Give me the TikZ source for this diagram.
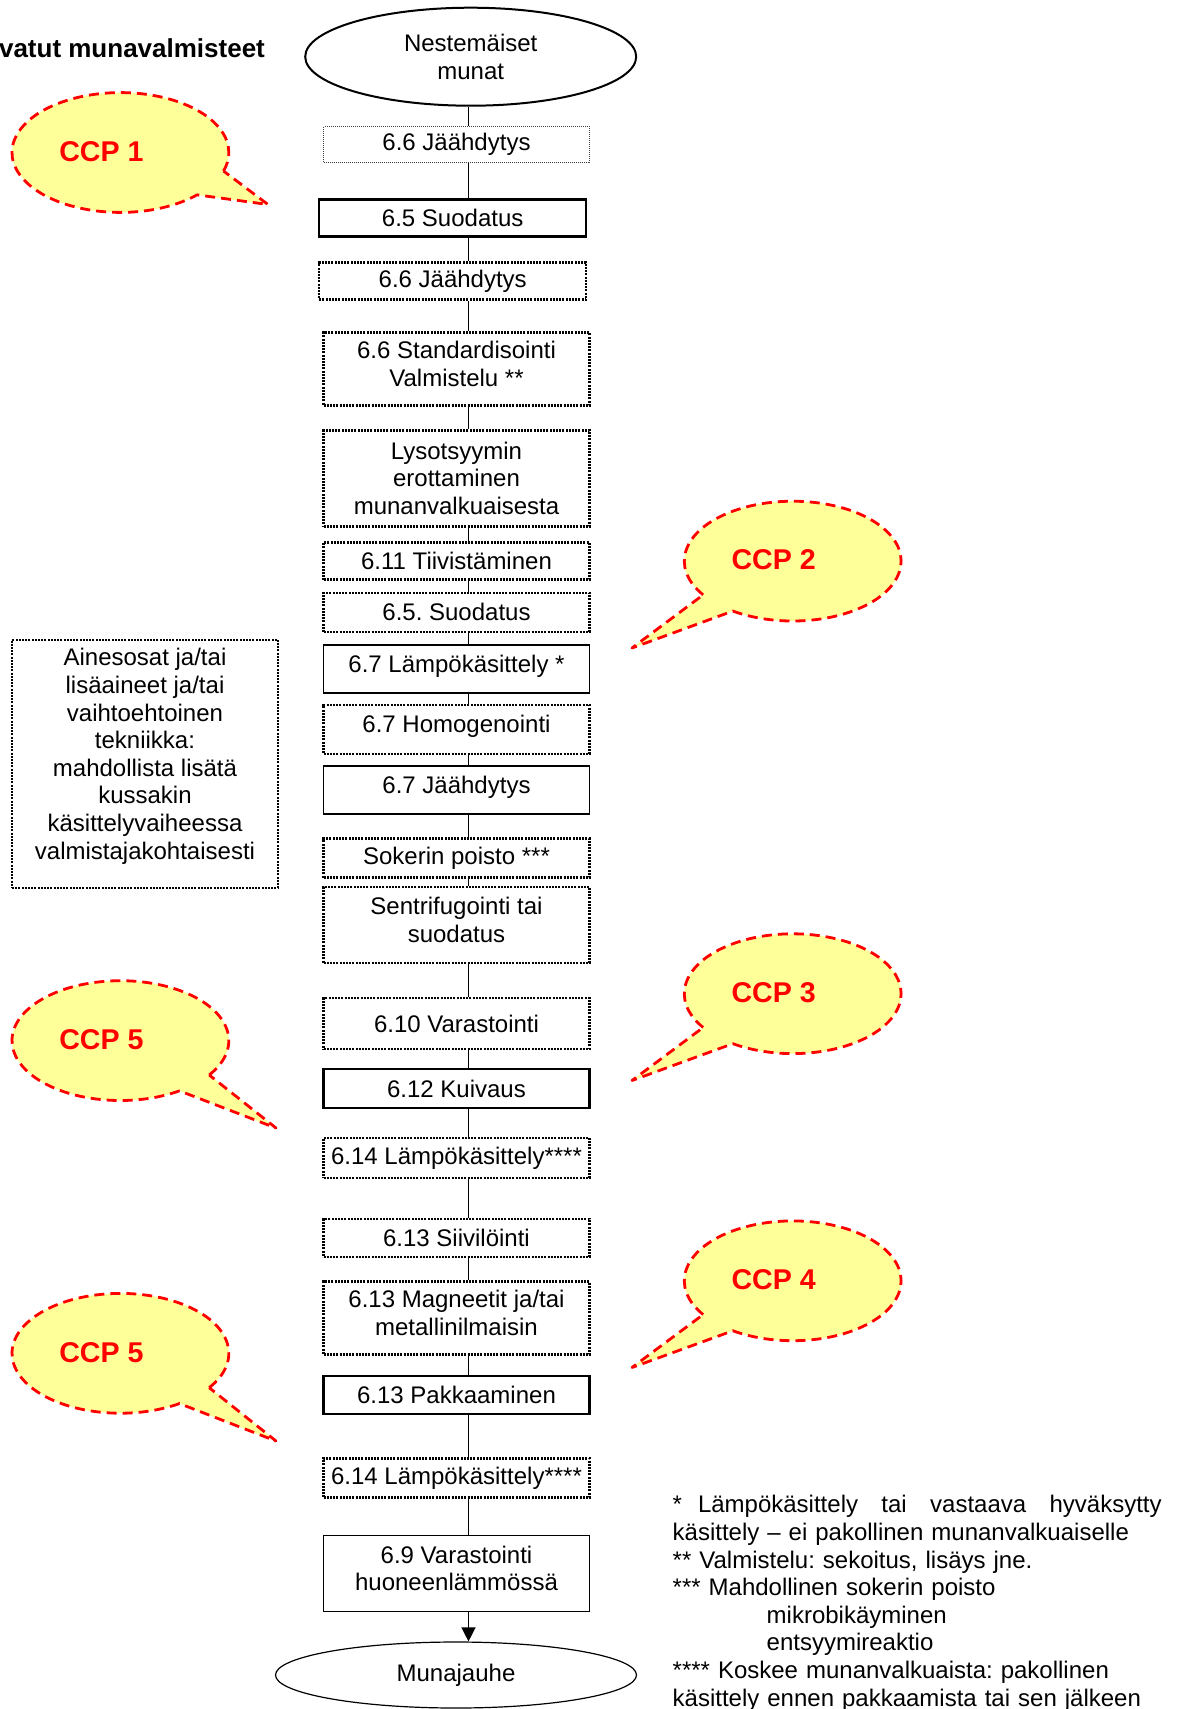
\documentclass[tikz,border=0pt]{standalone}
\usepackage{fontspec}
\setmainfont{Liberation Sans}
\usetikzlibrary{shapes.geometric,arrows.meta}
\definecolor{ccpyellow}{RGB}{255,255,153}

\begin{document}
\frenchspacing
\begin{tikzpicture}[x=0.5pt,y=-0.5pt,
  every node/.style={font=\fontsize{12}{13.8}\selectfont},
  flow/.style={rectangle, minimum width=133pt, align=center, inner sep=1pt},
  dotbox/.style={flow, draw, line width=1.2pt, dash pattern=on 1pt off 0.6pt},
  thickbox/.style={flow, draw, line width=1.15pt},
  thinbox/.style={flow, draw, line width=0.6pt},
  toptext/.style={text depth=5.5pt},
  twoline/.style={text depth=5pt},
  terminal/.style={ellipse, draw, align=center, inner sep=0pt},
  conn/.style={line width=0.7pt},
  ccp/.style={fill=ccpyellow, draw=red, line width=1.4pt, line join=round, dash pattern=on 5pt off 3pt},
  ccptext/.style={text=red, font=\fontsize{14.3}{17}\selectfont\bfseries}]
  \useasboundingbox (0,0) rectangle (1180,1709);
  \coordinate (spine) at (468.5,0);

  \node[anchor=east, font=\fontsize{13}{15}\selectfont\bfseries] (title) at (272,48) {vatut munavalmisteet};

  \node[terminal, line width=1pt, minimum width=165.5pt, minimum height=49pt] (top) at (470.7,56.7) {Nestemäiset\\munat};
  \node[flow, draw=black!75, line width=0.5pt, dash pattern=on 0.5pt off 0.5pt, minimum height=18pt] (jaa1) at (456.5,144.5) {6.6 Jäähdytys};
  \node[thickbox, minimum width=133.5pt, minimum height=18.5pt] (suo1) at (452.7,217.9) {6.5 Suodatus};
  \node[dotbox, minimum width=133.5pt, minimum height=18.5pt] (jaa2) at (452.7,281) {6.6 Jäähdytys};
  \node[dotbox, twoline, minimum height=36.5pt] (std) at (456.5,368.8) {6.6 Standardisointi\\Valmistelu **};
  \node[dotbox, minimum height=48pt] (lys) at (456.5,478.3) {Lysotsyymin\\erottaminen\\munanvalkuaisesta};
  \node[dotbox, minimum height=18.5pt] (tii) at (456.5,561.1) {6.11 Tiivistäminen};
  \node[dotbox, minimum height=19.5pt] (suo2) at (456.5,612.4) {6.5. Suodatus};
  \node[thinbox, toptext, minimum height=24pt] (lam) at (456.5,669) {6.7 Lämpökäsittely *};
  \node[dotbox, toptext, minimum height=24.5pt] (hom) at (456.5,729.5) {6.7 Homogenointi};
  \node[thinbox, toptext, minimum height=24pt] (jaa3) at (456.5,790) {6.7 Jäähdytys};
  \node[dotbox, minimum height=19.5pt] (sok) at (456.5,858) {Sokerin poisto ***};
  \node[dotbox, twoline, minimum height=38pt] (sen) at (456.5,925) {Sentrifugointi tai\\suodatus};
  \node[dotbox, minimum height=25.5pt] (var) at (456.5,1023.6) {6.10 Varastointi};
  \node[thickbox, minimum height=19.5pt] (kui) at (456.5,1088.5) {6.12 Kuivaus};
  \node[dotbox, minimum height=20pt] (lk1) at (456.5,1157.8) {6.14 Lämpökäsittely****};
  \node[dotbox, minimum height=19pt] (sii) at (456.5,1238) {6.13 Siivilöinti};
  \node[dotbox, twoline, minimum height=36.5pt] (mag) at (456.5,1318) {6.13 Magneetit ja/tai\\metallinilmaisin};
  \node[thickbox, minimum height=19pt] (pak) at (456.5,1395) {6.13 Pakkaaminen};
  \node[dotbox, minimum height=19.5pt] (lk2) at (456.5,1477.8) {6.14 Lämpökäsittely****};
  \node[flow, draw, twoline, line width=0.9pt, minimum height=38pt] (var2) at (456.5,1573.4) {6.9 Varastointi\\huoneenlämmössä};
  \node[terminal, line width=0.6pt, minimum width=180.5pt, minimum height=33pt] (end) at (456,1675) {Munajauhe};

  \foreach \a/\b in {top/jaa1, jaa1/suo1, suo1/jaa2, jaa2/std, std/lys, lys/tii, tii/suo2,
      suo2/lam, lam/hom, hom/jaa3, jaa3/sok, sok/sen, sen/var, var/kui, kui/lk1, lk1/sii,
      sii/mag, mag/pak, pak/lk2, lk2/var2}
    \draw[conn] (\a.south -| spine) -- (\b.north -| spine);
  \draw[conn, -{Triangle[length=7pt,width=7pt]}] (var2.south -| spine) -- (end.north -| spine);

  \node[dotbox, minimum height=124pt, text depth=10pt] (note) at (145,763.8)
    {Ainesosat ja/tai\\lisäaineet ja/tai\\vaihtoehtoinen\\tekniikka:\\mahdollista lisätä\\kussakin\\käsittelyvaiheessa\\valmistajakohtaisesti};

  \foreach \cx/\cy/\sa/\ea/\tx/\ty/\lab in {
      120.4/152.5/18/-315/268/204.5/CCP 1,
      120.4/1040.6/35/-303/276/1128/CCP 5,
      120.4/1353.3/35/-303/276/1441/CCP 5,
      792.7/561.1/145.7/483.5/632/648/CCP 2,
      792.7/993.7/145.7/483.5/632/1080.5/CCP 3,
      792.7/1280.8/145.7/483.5/632/1367.5/CCP 4}
  {
    \filldraw[ccp] (\cx,\cy) ++(\sa:108.4 and 59.9)
      arc[start angle=\sa, end angle=\ea, x radius=108.4, y radius=59.9] -- (\tx,\ty) -- cycle;
    \node[ccptext] at (\cx-19,\cy-1) {\lab};
  }

  \node[anchor=north west, inner sep=0pt, text width=244.5pt, align=left] (notes) at (672.3,1495)
    {\hbox to 244.5pt{*\ \ Lämpökäsittely\hfill tai\hfill vastaava\hfill hyväksytty}\\
     käsittely – ei pakollinen munanvalkuaiselle\\
     {}** Valmistelu: sekoitus, lisäys jne.\\
     {}*** Mahdollinen sokerin poisto\\
     \hspace*{47pt}mikrobikäyminen\\
     \hspace*{47pt}entsyymireaktio\\
     {}**** Koskee munanvalkuaista: pakollinen\\
     käsittely ennen pakkaamista tai sen jälkeen};
\end{tikzpicture}
\end{document}
